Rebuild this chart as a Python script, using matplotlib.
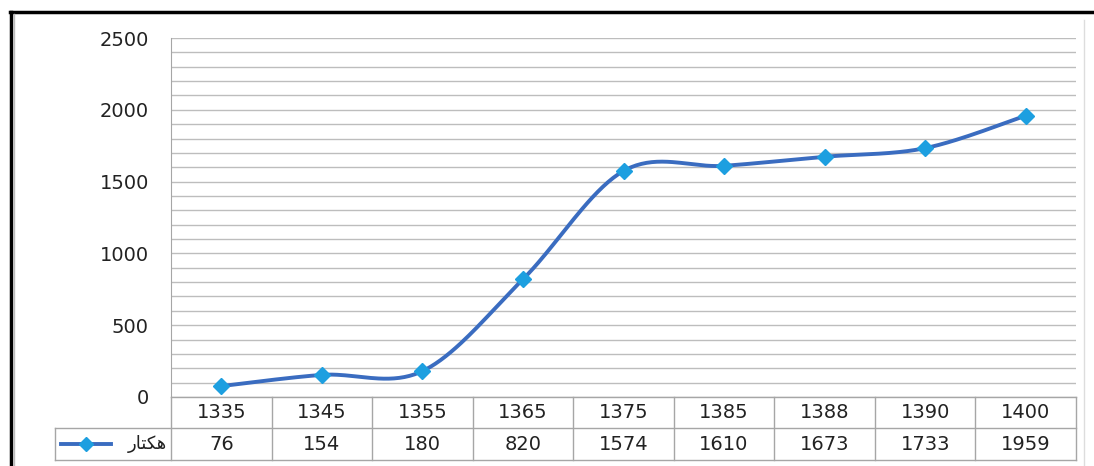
import numpy as np
import matplotlib.pyplot as plt
from matplotlib.lines import Line2D

years = ["1335", "1345", "1355", "1365", "1375", "1385", "1388", "1390", "1400"]
hectares = [76, 154, 180, 820, 1574, 1610, 1673, 1733, 1959]
series_name = "هکتار"
# shaped glyphs in visual order, since matplotlib does no Arabic shaping
series_label = "\uFEAD\uFE8E\uFE98\uFB91\uFEEB"
yticks = [0, 500, 1000, 1500, 2000, 2500]

LINE = "#3a6cc0"
MARK = "#1d9fe0"
GRID = "#bdbdbd"
TABLE = "#a6a6a6"
FS = 14


def excel_smooth(x, y, n=40):
    # cubic bezier through points, excel-style (catmull-rom, 1/6 tension)
    x = np.asarray(x, float)
    y = np.asarray(y, float)
    px = np.concatenate([[x[0]], x, [x[-1]]])
    py = np.concatenate([[y[0]], y, [y[-1]]])
    xs, ys = [], []
    t = np.linspace(0, 1, n)
    for i in range(1, len(px) - 2):
        p0 = np.array([px[i], py[i]])
        p3 = np.array([px[i + 1], py[i + 1]])
        p1 = p0 + (np.array([px[i + 1], py[i + 1]]) - np.array([px[i - 1], py[i - 1]])) / 6
        p2 = p3 - (np.array([px[i + 2], py[i + 2]]) - np.array([px[i], py[i]])) / 6
        b = ((1 - t) ** 3)[:, None] * p0 + (3 * (1 - t) ** 2 * t)[:, None] * p1 \
            + (3 * (1 - t) * t ** 2)[:, None] * p2 + (t ** 3)[:, None] * p3
        xs.extend(b[:, 0])
        ys.extend(b[:, 1])
    return xs, ys


W, H = 1094, 466
fig = plt.figure(figsize=(W / 100, H / 100), dpi=100)

x_left, x_right = 171, 1076
y_top, y_zero = 38, 397
ax = fig.add_axes([x_left / W, 1 - y_zero / H, (x_right - x_left) / W, (y_zero - y_top) / H])

xs = np.arange(len(years))
sx, sy = excel_smooth(xs, hectares)
ax.plot(sx, sy, color=LINE, lw=2.8, solid_capstyle="round", zorder=3)
ax.plot(xs, hectares, ls="none", marker="D", ms=8.5, color=MARK, mec=MARK, zorder=4)

ax.set_xlim(-0.5, len(years) - 0.5)
ax.set_ylim(0, 2500)
ax.set_yticks(yticks)
ax.set_yticks(np.arange(0, 2501, 100), minor=True)
ax.set_xticks([])
ax.grid(axis="y", which="both", color=GRID, lw=1)
ax.tick_params(axis="y", which="both", length=0, labelsize=FS, pad=16, colors="#222222")
for s in ["top", "right", "bottom"]:
    ax.spines[s].set_visible(False)
ax.spines["left"].set_color(TABLE)
ax.set_axisbelow(True)


# data table drawn in figure pixels
def fx(px):
    return px / W


def fy(py):
    return 1 - py / H


row1_top, row_mid, row_bot = 397, 428, 460
legend_left = 55
col_w = (x_right - x_left) / len(years)
kw = dict(color=TABLE, lw=1, transform=fig.transFigure)
fig.add_artist(Line2D([fx(x_left), fx(x_right)], [fy(row1_top)] * 2, **kw))
fig.add_artist(Line2D([fx(legend_left), fx(x_right)], [fy(row_mid)] * 2, **kw))
fig.add_artist(Line2D([fx(legend_left), fx(x_right)], [fy(row_bot)] * 2, **kw))
fig.add_artist(Line2D([fx(legend_left)] * 2, [fy(row_mid), fy(row_bot)], **kw))
for i in range(len(years) + 1):
    cx = x_left + i * col_w
    fig.add_artist(Line2D([fx(cx)] * 2, [fy(row1_top), fy(row_bot)], **kw))

for i, (yr, v) in enumerate(zip(years, hectares)):
    cx = x_left + (i + 0.5) * col_w
    fig.text(fx(cx), fy((row1_top + row_mid) / 2), yr, ha="center", va="center",
             fontsize=FS, color="#222222")
    fig.text(fx(cx), fy((row_mid + row_bot) / 2), str(v), ha="center", va="center",
             fontsize=FS, color="#222222")

# legend key
ky = fy((row_mid + row_bot) / 2)
fig.add_artist(Line2D([fx(61), fx(111)], [ky, ky], color=LINE, lw=2.8, transform=fig.transFigure))
fig.add_artist(Line2D([fx(86)], [ky], ls="none", marker="D", ms=7, color=MARK,
                      transform=fig.transFigure))
fig.text(fx(167), ky, series_label, ha="right", va="center", fontsize=13,
         family=["DejaVu Sans"], color="#222222")

# outer frame
fig.add_artist(Line2D([fx(10), fx(W)], [fy(12), fy(12)], color="black", lw=2.5,
                      transform=fig.transFigure))
fig.add_artist(Line2D([fx(11), fx(11)], [fy(12), 0], color="black", lw=2.5,
                      transform=fig.transFigure))
fig.add_artist(Line2D([fx(14), fx(14)], [fy(14), 0], color="#bbbbbb", lw=1,
                      transform=fig.transFigure))
fig.add_artist(Line2D([fx(1084), fx(1084)], [fy(20), 0], color="#dddddd", lw=1,
                      transform=fig.transFigure))

fig.savefig("out.png", dpi=100)
